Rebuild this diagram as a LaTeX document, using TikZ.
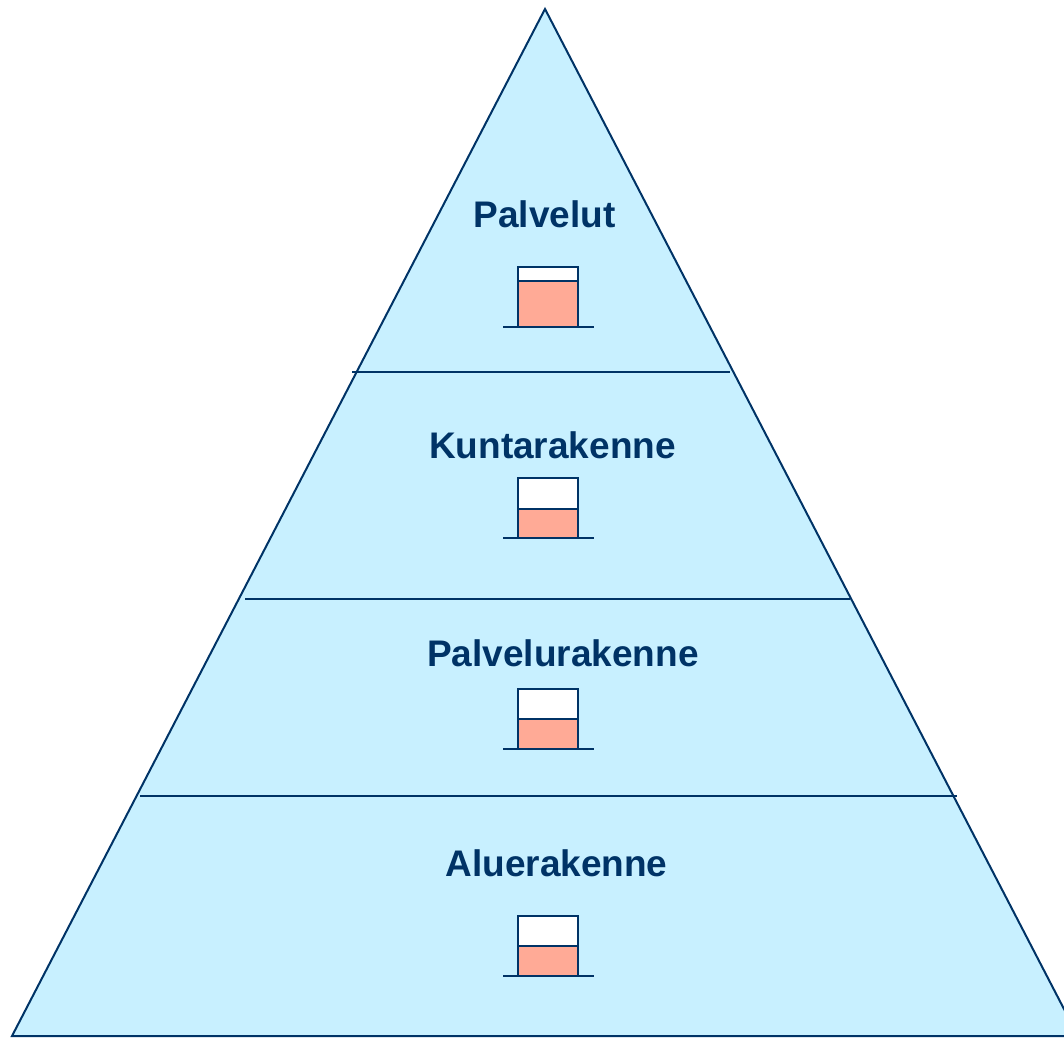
\documentclass[tikz,border=0pt]{standalone}
\usepackage{fontspec}
\setmainfont{Liberation Sans}
\definecolor{navy}{HTML}{003366}
\definecolor{skyfill}{HTML}{C8F0FF}
\definecolor{salmon}{HTML}{FFAA96}
\begin{document}
\begin{tikzpicture}[x=1pt,y=-1pt,
  edge/.style={draw=navy,line width=2pt},
  label/.style={anchor=base,inner sep=0pt,text=navy,font=\fontsize{37}{41}\selectfont\bfseries},
  upper/.style={draw=navy,line width=2.2pt,fill=white},
  lower/.style={draw=navy,line width=2.2pt,fill=salmon}]
\useasboundingbox (0,0) rectangle (1064,1037);
\begin{scope}
\clip (0,0) rectangle (1064,1037);
\draw[edge,fill=skyfill,line join=miter] (545,9) -- (1078,1036) -- (12,1036) -- cycle;
\end{scope}
% divider lines
\draw[edge] (352,372) -- (730,372);
\draw[edge] (245,599) -- (850,599);
\draw[edge] (140,796) -- (957,796);
% labels
\node[label] (t1) at (544.5,227) {Palvelut};
\node[label] (t2) at (552.5,458) {Kuntarakenne};
\node[label] (t3) at (563,666) {Palvelurakenne};
\node[label] (t4) at (556.5,876) {Aluerakenne};
% containers
\foreach \top/\mid/\bot in {267/281/327, 478/509/538, 689/719/749, 916/946/976}{
  \draw[upper] (518,\top) rectangle (578,\mid);
  \draw[lower] (518,\mid) rectangle (578,\bot);
  \draw[edge] (503,\bot) -- (594,\bot);
}
\end{tikzpicture}
\end{document}
